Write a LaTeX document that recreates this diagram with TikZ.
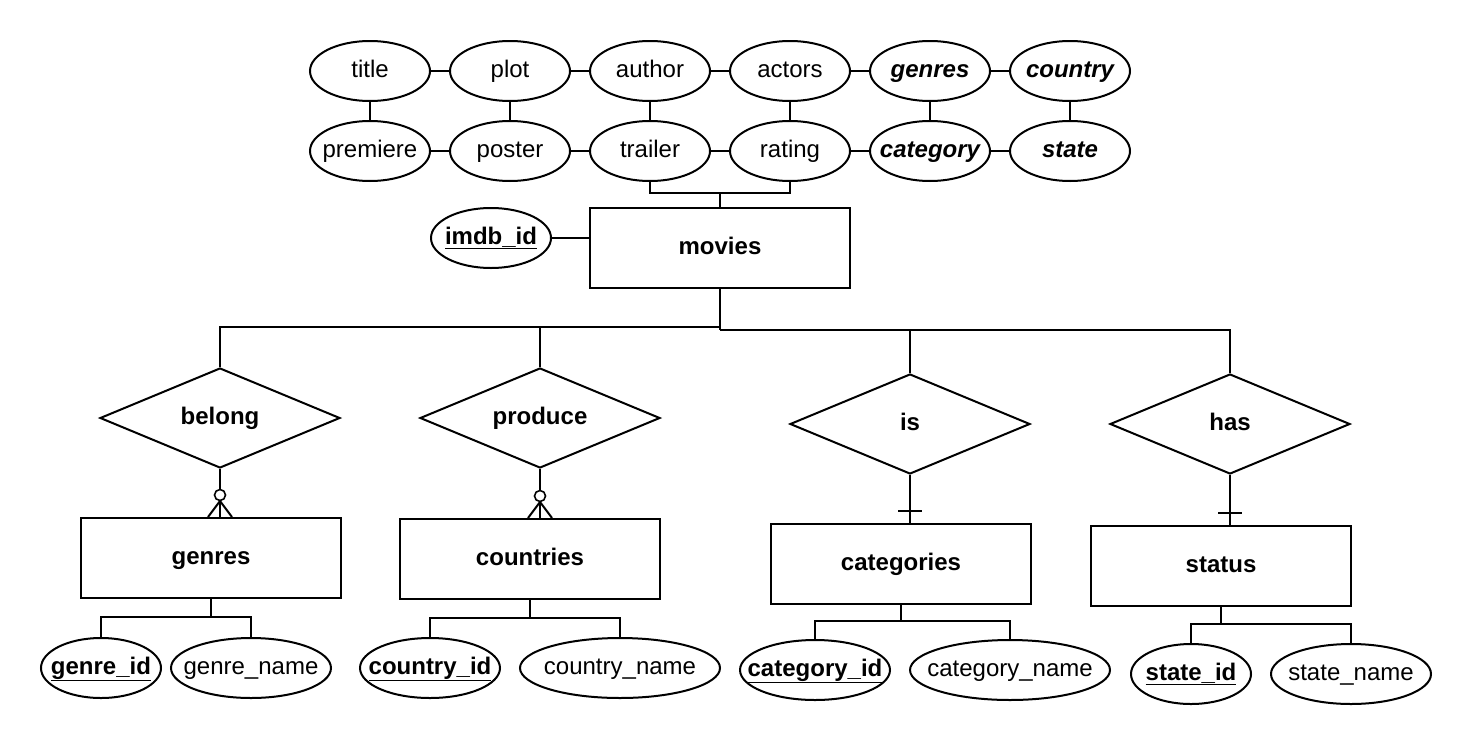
\documentclass[tikz,border=0pt]{standalone}
\usepackage{fontspec}
\setmainfont{Liberation Sans}
\usetikzlibrary{shapes.geometric}

\newcommand\erfont{\fontsize{24}{28}\selectfont}

\begin{document}
\begin{tikzpicture}[x=1pt,y=-1pt,line width=2pt,
  fixtext/.style={text height=17,text depth=5,
    execute at begin node={\hbox to 0pt\bgroup\hss},execute at end node={\hss\egroup}},
  attr/.style={draw,ellipse,minimum width=120,minimum height=60,inner sep=0,fixtext,font=\erfont},
  multi/.style={attr,font=\erfont\bfseries\itshape},
  keyattr/.style={attr,font=\erfont\bfseries},
  entity/.style={draw,rectangle,minimum width=260,minimum height=80,inner sep=0,fixtext,font=\erfont\bfseries},
  rel/.style={draw,diamond,minimum width=240,minimum height=100,inner sep=0,fixtext,font=\erfont\bfseries},
  optional/.style={draw,circle,inner sep=0,minimum size=11,line width=1.6pt,fill=white}]
\useasboundingbox[fill=white] (0,0) rectangle (1471,744);
\def\rowA{title/title/attr, plot/plot/attr, author/author/attr, actors/actors/attr, tgenres/genres/multi, tcountry/country/multi}
\def\rowB{premiere/premiere/attr, poster/poster/attr, trailer/trailer/attr, rating/rating/attr, tcategory/category/multi, tstate/state/multi}

%attributes of movies
\foreach \n/\t/\s [count=\i] in \rowA {
  \node[\s] (\n) at (230+140*\i,71) {\t};
}
\foreach \n/\t/\s [count=\i] in \rowB {
  \node[\s] (\n) at (230+140*\i,151) {\t};
}
\foreach \a/\b in {title/plot, plot/author, author/actors, actors/tgenres, tgenres/tcountry,
  premiere/poster, poster/trailer, trailer/rating, rating/tcategory, tcategory/tstate,
  title/premiere, plot/poster, author/trailer, actors/rating, tgenres/tcategory, tcountry/tstate} {
  \draw (\a) -- (\b);
}

%entities
\node[entity] (movies) at (720,248) {movies};
\node[keyattr] (imdb) at (491,238) {\underline{imdb\_id}};
\node[entity] (genres) at (211,558) {genres};
\node[entity] (countries) at (530,559) {countries};
\node[entity] (categories) at (901,564) {categories};
\node[entity] (status) at (1221,566) {status};

%relations
\node[rel] (belong) at (220,418) {belong};
\node[rel] (produce) at (540,418) {produce};
\node[rel] (is) at (910,424) {is};
\node[rel] (has) at (1230,424) {has};

%keys and names
\node[keyattr] (genreid) at (101,668) {\underline{genre\_id}};
\node[attr,minimum width=160] (genrename) at (251,668) {genre\_name};
\node[keyattr,minimum width=140] (countryid) at (430,668) {\underline{country\_id}};
\node[attr,minimum width=200] (countryname) at (620,668) {country\_name};
\node[keyattr,minimum width=150] (categoryid) at (815,670) {\underline{category\_id}};
\node[attr,minimum width=200] (categoryname) at (1010,670) {category\_name};
\node[keyattr] (stateid) at (1191,674) {\underline{state\_id}};
\node[attr,minimum width=160] (statename) at (1351,674) {state\_name};

%lines to movies
\coordinate (attrjoin) at (720,193);
\coordinate (busl) at (720,327);
\coordinate (busr) at (720,330);
\draw (trailer) |- (attrjoin) -| (rating);
\draw (movies) -- (attrjoin);
\draw (imdb) -- (imdb -| movies.west);
\draw (movies) -- (busr);
\draw (belong) |- (busl);
\draw (produce) |- (busl);
\draw (is) |- (busr);
\draw (has) |- (busr);

%zero or many
\foreach \r/\e in {belong/genres, produce/countries} {
  \coordinate (\r foot) at (\r |- \e.north);
  \draw (\r) -- (\r foot);
  \draw (\r foot) ++(-12,0) -- ++(12,-16) -- ++(12,16);
  \path (\r foot) ++(0,-22) node[optional] (\r o) {};
}

%exactly one
\foreach \r/\e in {is/categories, has/status} {
  \coordinate (\r foot) at (\r |- \e.north);
  \draw (\r) -- (\r foot);
  \draw (\r foot) ++(-12,-12) -- ++(24,0);
}

%lines to keys and names
\foreach \e/\k/\a/\y in {genres/genreid/genrename/617, countries/countryid/countryname/618,
  categories/categoryid/categoryname/621, status/stateid/statename/624} {
  \coordinate (\e join) at (\e.south |- 0,\y);
  \draw (\e) -- (\e join);
  \draw (\k) |- (\e join) -| (\a);
}
\end{tikzpicture}
\end{document}
